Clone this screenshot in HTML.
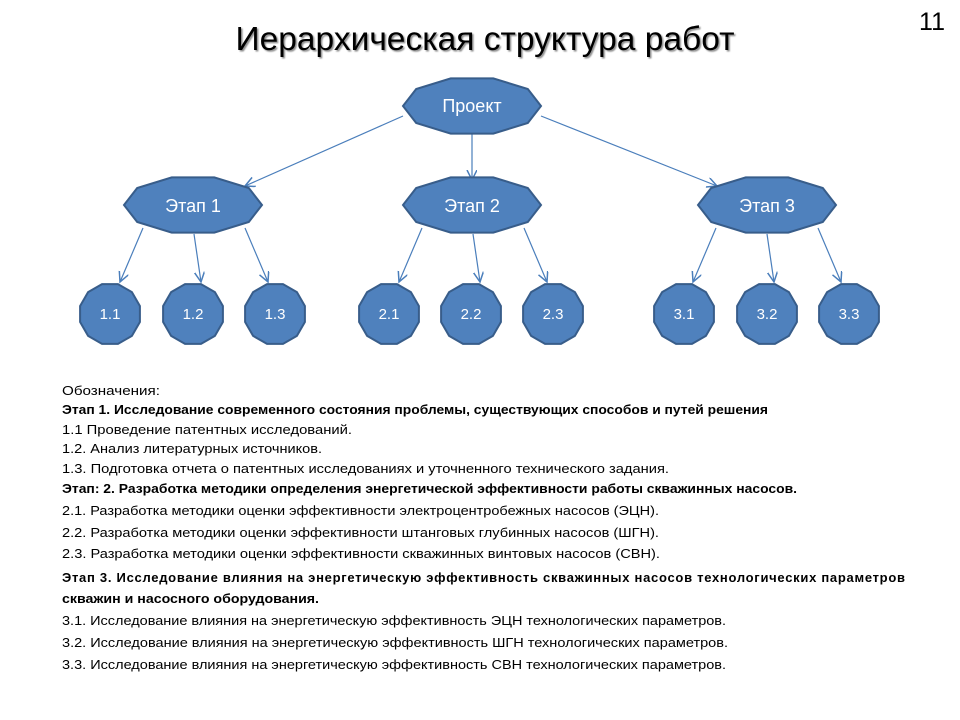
<!DOCTYPE html>
<html><head><meta charset="utf-8"><style>
html,body{margin:0;padding:0;background:#fff;}
svg{display:block;}
</style></head><body>
<svg width="960" height="720" viewBox="0 0 960 720" xmlns="http://www.w3.org/2000/svg" font-family="Liberation Sans, DejaVu Sans, sans-serif">
<defs>
<polygon id="big" points="69,0 55.8,17 21.3,27.6 -21.3,27.6 -55.8,17 -69,0 -55.8,-17 -21.3,-27.6 21.3,-27.6 55.8,-17" fill="#4f81bd" stroke="#385d8a" stroke-width="2"/>
<polygon id="sm" points="29.9,8 21.9,21.9 8,29.9 -8,29.9 -21.9,21.9 -29.9,8 -29.9,-8 -21.9,-21.9 -8,-29.9 8,-29.9 21.9,-21.9 29.9,-8" fill="#4f81bd" stroke="#385d8a" stroke-width="2"/>
<marker id="ar" markerWidth="12" markerHeight="12" refX="10" refY="5" orient="auto" markerUnits="userSpaceOnUse">
<path d="M0,0 L10,5 L0,10" fill="none" stroke="#4a7ebb" stroke-width="1.5"/>
</marker>
<filter id="sh"><feDropShadow dx="1.5" dy="1.5" stdDeviation="0.8" flood-color="#000" flood-opacity="0.45"/></filter>
</defs>

<text x="485" y="50" font-size="33" text-anchor="middle" textLength="499" lengthAdjust="spacingAndGlyphs" filter="url(#sh)" fill="#000">Иерархическая структура работ</text>
<text x="932" y="30" font-size="25" text-anchor="middle" fill="#000">11</text>

<g stroke="#4a7ebb" stroke-width="1.2" marker-end="url(#ar)">
<line x1="403" y1="116" x2="245" y2="186"/>
<line x1="472" y1="134" x2="472" y2="180"/>
<line x1="541" y1="116" x2="717" y2="186"/>
<line x1="143" y1="228" x2="120" y2="282"/>
<line x1="194" y1="234" x2="201" y2="282"/>
<line x1="245" y1="228" x2="268" y2="282"/>
<line x1="422" y1="228" x2="399" y2="282"/>
<line x1="473" y1="234" x2="480" y2="282"/>
<line x1="524" y1="228" x2="547" y2="282"/>
<line x1="716" y1="228" x2="693" y2="282"/>
<line x1="767" y1="234" x2="774" y2="282"/>
<line x1="818" y1="228" x2="841" y2="282"/>
</g>

<use href="#big" x="472" y="106"/>
<use href="#big" x="193" y="205"/>
<use href="#big" x="472" y="205"/>
<use href="#big" x="767" y="205"/>
<g fill="#fff" font-size="18" text-anchor="middle">
<text x="472" y="112">Проект</text>
<text x="193" y="212">Этап 1</text>
<text x="472" y="212">Этап 2</text>
<text x="767" y="212">Этап 3</text>
</g>

<use href="#sm" x="110" y="314"/>
<use href="#sm" x="193" y="314"/>
<use href="#sm" x="275" y="314"/>
<use href="#sm" x="389" y="314"/>
<use href="#sm" x="471" y="314"/>
<use href="#sm" x="553" y="314"/>
<use href="#sm" x="684" y="314"/>
<use href="#sm" x="767" y="314"/>
<use href="#sm" x="849" y="314"/>
<g fill="#fff" font-size="15" text-anchor="middle">
<text x="110" y="319">1.1</text>
<text x="193" y="319">1.2</text>
<text x="275" y="319">1.3</text>
<text x="389" y="319">2.1</text>
<text x="471" y="319">2.2</text>
<text x="553" y="319">2.3</text>
<text x="684" y="319">3.1</text>
<text x="767" y="319">3.2</text>
<text x="849" y="319">3.3</text>
</g>

<g font-size="13" fill="#000" lengthAdjust="spacingAndGlyphs">
<text x="62" y="395" textLength="98" lengthAdjust="spacingAndGlyphs">Обозначения:</text>
<text x="62" y="414" textLength="706" lengthAdjust="spacingAndGlyphs" font-weight="bold">Этап 1. Исследование современного состояния проблемы, существующих способов и путей решения</text>
<text x="62" y="434" textLength="290" lengthAdjust="spacingAndGlyphs">1.1 Проведение патентных исследований.</text>
<text x="62" y="453" textLength="260" lengthAdjust="spacingAndGlyphs">1.2. Анализ литературных источников.</text>
<text x="62" y="473" textLength="607" lengthAdjust="spacingAndGlyphs">1.3. Подготовка отчета о патентных исследованиях и уточненного технического задания.</text>
<text x="62" y="493" textLength="735" lengthAdjust="spacingAndGlyphs" font-weight="bold">Этап: 2. Разработка методики определения энергетической эффективности работы скважинных насосов.</text>
<text x="62" y="515" textLength="597" lengthAdjust="spacingAndGlyphs">2.1. Разработка методики оценки эффективности электроцентробежных насосов (ЭЦН).</text>
<text x="62" y="537" textLength="597" lengthAdjust="spacingAndGlyphs">2.2. Разработка методики оценки эффективности штанговых глубинных насосов (ШГН).</text>
<text x="62" y="558" textLength="598" lengthAdjust="spacingAndGlyphs">2.3. Разработка методики оценки эффективности скважинных винтовых насосов (СВН).</text>
<text x="62" y="582" textLength="843" lengthAdjust="spacing" font-weight="bold">Этап 3. Исследование влияния на энергетическую эффективность скважинных насосов технологических параметров</text>
<text x="62" y="603" textLength="257" lengthAdjust="spacingAndGlyphs" font-weight="bold">скважин и насосного оборудования.</text>
<text x="62" y="625" textLength="664" lengthAdjust="spacingAndGlyphs">3.1. Исследование влияния на энергетическую эффективность ЭЦН технологических параметров.</text>
<text x="62" y="647" textLength="666" lengthAdjust="spacingAndGlyphs">3.2. Исследование влияния на энергетическую эффективность ШГН технологических параметров.</text>
<text x="62" y="669" textLength="664" lengthAdjust="spacingAndGlyphs">3.3. Исследование влияния на энергетическую эффективность СВН технологических параметров.</text>
</g>
</svg>
</body></html>
